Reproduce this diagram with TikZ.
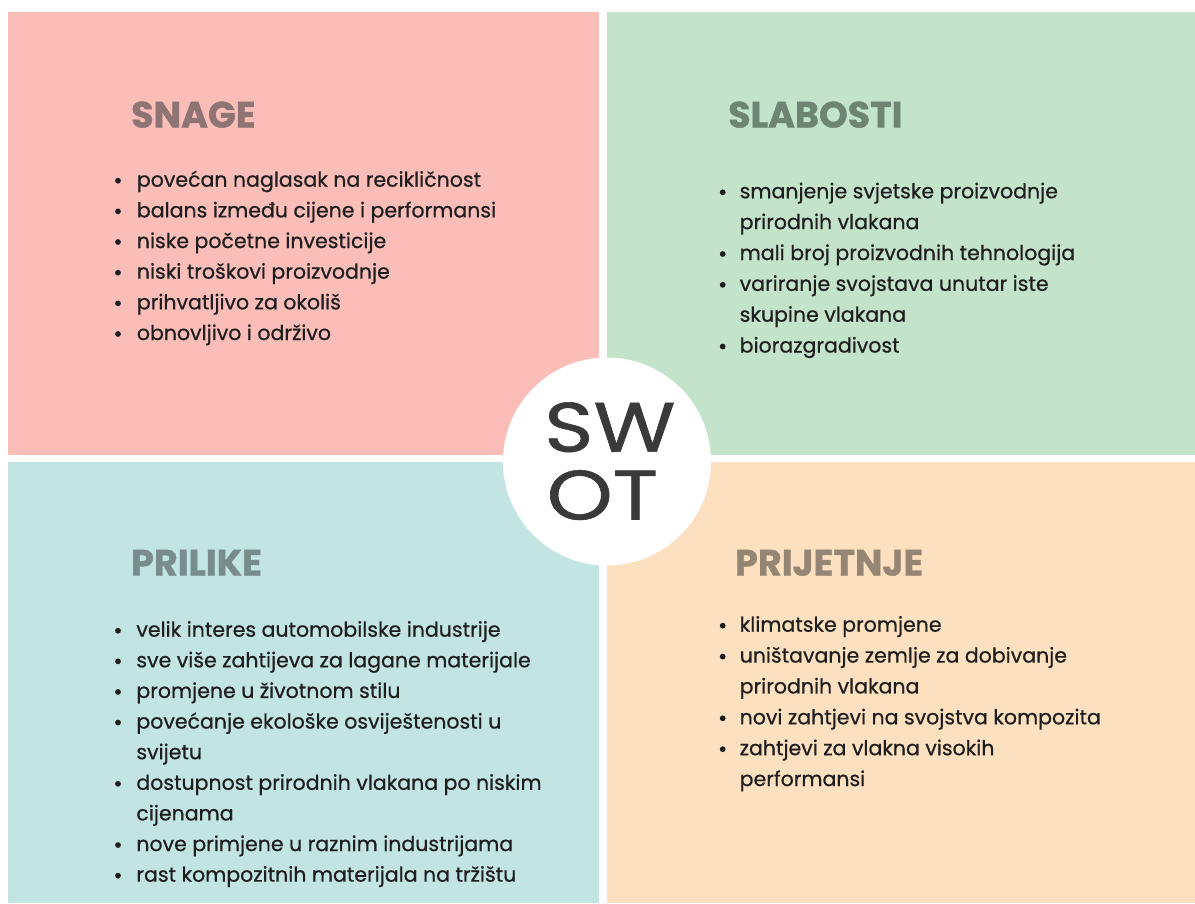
\documentclass[tikz,border=0pt]{standalone}
\usepackage{fontspec}
\setmainfont{Poppins}
\newfontfamily\bodyfont[FakeBold=0.6]{Poppins}
\newfontfamily\headfont[FakeBold=1.2]{Poppins Bold}
\newfontfamily\swotfont[FakeBold=0.8]{Poppins}
\definecolor{cpink}{HTML}{FBBDB7}
\definecolor{cgreen}{HTML}{C3E4CA}
\definecolor{cteal}{HTML}{C2E4E3}
\definecolor{corange}{HTML}{FDE0BF}
\definecolor{hpink}{HTML}{8E7472}
\definecolor{hgreen}{HTML}{6F8573}
\definecolor{hteal}{HTML}{778C8B}
\definecolor{horange}{HTML}{958673}
\definecolor{bodyc}{HTML}{1E1E1E}
\definecolor{swotc}{HTML}{3A3A3A}
\tikzset{
  body/.style={anchor=base west, inner sep=0pt, text=bodyc, font=\bodyfont\fontsize{20.5}{20.5}\selectfont},
  head/.style={anchor=base west, inner sep=0pt, font=\headfont\fontsize{36.5}{36.5}\selectfont},
  swot/.style={anchor=base west, inner sep=0pt, text=swotc, font=\swotfont\fontsize{70}{70}\selectfont},
  dot/.style={fill=bodyc},
}
\begin{document}
\begin{tikzpicture}[x=1pt,y=1pt]
\useasboundingbox (0,0) rectangle (1195,-903);
\fill[white] (0,0) rectangle (1195,-903);
% panels
\fill[cpink]   (8,-12)   rectangle (599,-455);
\fill[cgreen]  (607,-12) rectangle (1195,-455);
\fill[cteal]   (8,-462)  rectangle (599,-903);
\fill[corange] (607,-462) rectangle (1195,-903);
% headings
\node[head, text=hpink]   (hS) at (131,-127.5) {SNAGE};
\node[head, text=hgreen]  (hW) at (728,-127.5) {SLABOSTI};
\node[head, text=hteal]   (hO) at (131,-575.5) {PRILIKE};
\node[head, text=horange] (hT) at (735,-575.5) {PRIJETNJE};
% Strengths
\foreach \t/\b [count=\i] in {
  {povećan naglasak na recikličnost}/1,
  {balans između cijene i performansi}/1,
  {niske početne investicije}/1,
  {niski troškovi proizvodnje}/1,
  {prihvatljivo za okoliš}/1,
  {obnovljivo i održivo}/1}{
  \node[body] (s\i) at (136.7,{-186.7-(\i-1)*30.66}) {\t};
  \ifnum\b=1 \fill[dot] (118,{-186.7-(\i-1)*30.66+6}) circle (2.9); \fi
}
% Weaknesses
\foreach \t/\b [count=\i] in {
  {smanjenje svjetske proizvodnje}/1,
  {prirodnih vlakana}/0,
  {mali broj proizvodnih tehnologija}/1,
  {variranje svojstava unutar iste}/1,
  {skupine vlakana}/0,
  {biorazgradivost}/1}{
  \node[body] (w\i) at (739.5,{-198.3-(\i-1)*30.85}) {\t};
  \ifnum\b=1 \fill[dot] (722.7,{-198.3-(\i-1)*30.85+6}) circle (2.9); \fi
}
% Opportunities
\foreach \t/\b [count=\i] in {
  {velik interes automobilske industrije}/1,
  {sve više zahtijeva za lagane materijale}/1,
  {promjene u životnom stilu}/1,
  {povećanje ekološke osviještenosti u}/1,
  {svijetu}/0,
  {dostupnost prirodnih vlakana po niskim}/1,
  {cijenama}/0,
  {nove primjene u raznim industrijama}/1,
  {rast kompozitnih materijala na tržištu}/1}{
  \node[body] (o\i) at (136.2,{-636.7-(\i-1)*30.62}) {\t};
  \ifnum\b=1 \fill[dot] (118,{-636.7-(\i-1)*30.62+6}) circle (2.9); \fi
}
% Threats
\foreach \t/\b [count=\i] in {
  {klimatske promjene}/1,
  {uništavanje zemlje za dobivanje}/1,
  {prirodnih vlakana}/0,
  {novi zahtjevi na svojstva kompozita}/1,
  {zahtjevi za vlakna visokih}/1,
  {performansi}/0}{
  \node[body] (t\i) at (739.5,{-631.7-(\i-1)*30.87}) {\t};
  \ifnum\b=1 \fill[dot] (722.7,{-631.7-(\i-1)*30.87+6}) circle (2.9); \fi
}
% centre circle
\node[circle, fill=white, minimum size=208pt, inner sep=0pt] (c) at (607,-461.5) {};
\node[swot] (sw) at (544,-451.7) {\scalebox{1.2}[1]{SW}};
\node[swot] (ot) at (546.5,-519.5) {\scalebox{1.2}[1]{OT}};
\end{tikzpicture}
\end{document}
